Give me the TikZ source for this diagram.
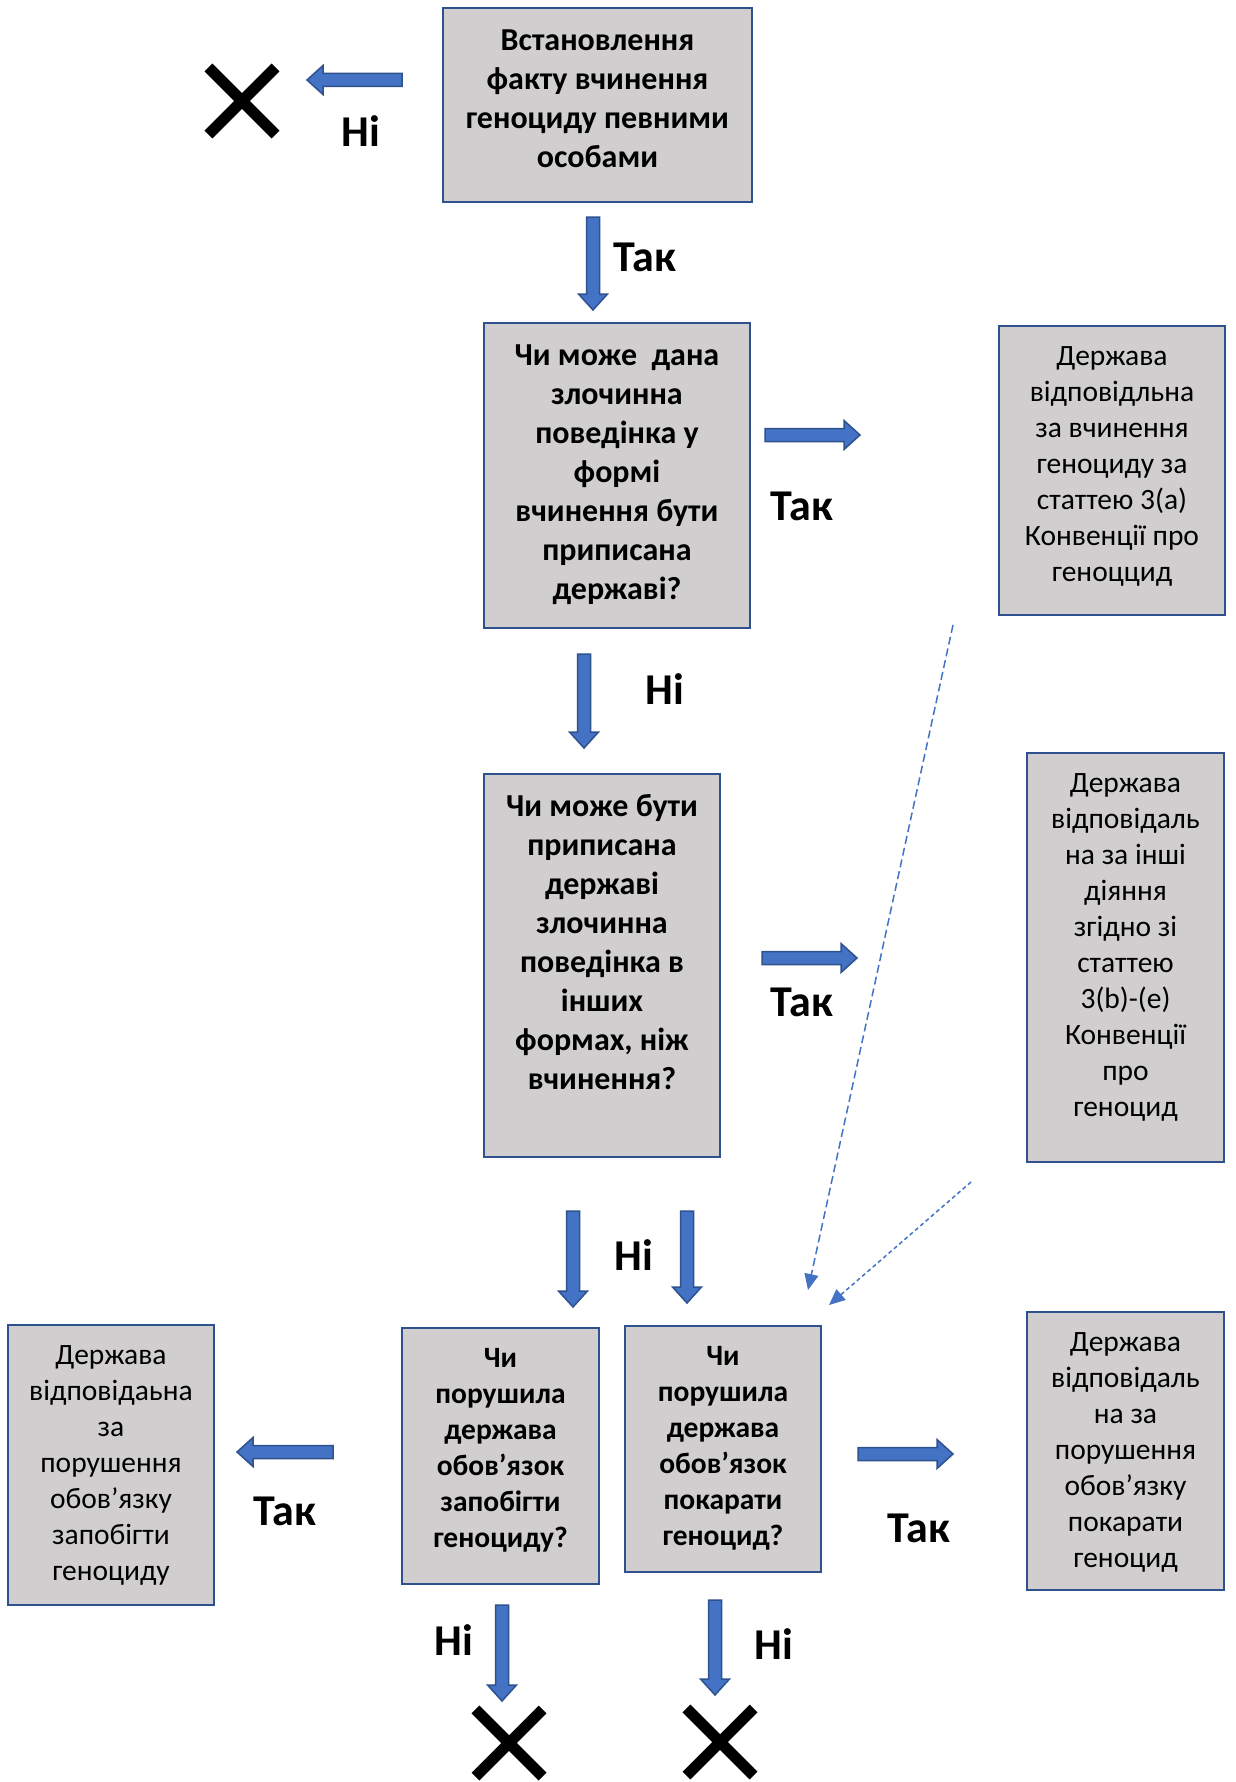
\documentclass[tikz,border=0pt]{standalone}
\usepackage{fontspec}
\setmainfont{Carlito}
\usetikzlibrary{arrows.meta}
\definecolor{boxfill}{HTML}{D0CECE}
\definecolor{boxline}{HTML}{2F528F}
\definecolor{arrfill}{HTML}{4472C4}
\definecolor{arrline}{HTML}{2F528F}
\newcommand{\bt}[5]{\parbox[c][#2pt][t]{#1pt}{\centering #4\vspace*{#3pt}\strut #5\par}}
\newcommand{\fq}{\fontsize{32}{39}\selectfont\bfseries}
\newcommand{\fs}{\fontsize{29.5}{36}\selectfont\bfseries}
\newcommand{\fr}{\fontsize{29.5}{36}\selectfont}
\newcommand{\barr}[3]{\draw[barrow, shift={(#1)}, rotate=#2] (0,-6.5) -- (#3-16,-6.5) -- (#3-16,-14.5) -- (#3,0) -- (#3-16,14.5) -- (#3-16,6.5) -- (0,6.5) -- cycle;}
\newcommand{\xm}[1]{\draw[xmark, shift={(#1)}] (-33.6,-33.6) -- (33.6,33.6) (-33.6,33.6) -- (33.6,-33.6);}
\tikzset{
  qbox/.style={draw=boxline, line width=2.5pt, fill=boxfill, inner sep=0pt},
  lbl/.style={font=\fontsize{44}{50}\selectfont\bfseries, inner sep=0pt},
  barrow/.style={fill=arrfill, draw=arrline, line width=1.5pt, line join=miter},
  dasharr/.style={draw=arrfill, line width=1.5pt, -{Triangle[length=16pt,width=14pt]}},
  xmark/.style={line width=11pt, black}
}
\begin{document}
\begin{tikzpicture}[x=1pt,y=-1pt]
\useasboundingbox[fill=white] (0,0) rectangle (1235,1782);
% boxes
\node[qbox] (b1) at (597.5,105) {\bt{309}{194}{15}{\fq}{Встановлення\\факту вчинення\\геноциду певними\\особами}};
\node[qbox] (b2) at (617,475.5) {\bt{266}{305}{15}{\fq}{Чи може~ дана\\злочинна\\поведінка у\\формі\\вчинення бути\\приписана\\державі?}};
\node[qbox] (r1) at (1112,470.5) {\bt{226}{289}{14}{\fr}{Держава\\відповідльна\\за вчинення\\геноциду за\\статтею 3(а)\\Конвенції про\\геноццид}};
\node[qbox] (b3) at (602,965.5) {\bt{236}{383}{15}{\fq}{Чи може бути\\приписана\\державі\\злочинна\\поведінка в\\інших\\формах, ніж\\вчинення?}};
\node[qbox] (r2) at (1125.5,957.5) {\bt{197}{409}{14}{\fr}{Держава\\відповідаль\\на за інші\\діяння\\згідно зі\\статтею\\3(b)-(e)\\Конвенції\\про\\геноцид}};
\node[qbox] (l1) at (111,1465) {\bt{206}{280}{14}{\fr}{Держава\\відповідаьна\\за\\порушення\\обов’язку\\запобігти\\геноциду}};
\node[qbox] (b4) at (500.5,1456) {\bt{197}{256}{14}{\fs}{Чи\\порушила\\держава\\обов’язок\\запобігти\\геноциду?}};
\node[qbox] (b5) at (723,1449) {\bt{196}{246}{14}{\fs}{Чи\\порушила\\держава\\обов’язок\\покарати\\геноцид?}};
\node[qbox] (r3) at (1125.5,1451) {\bt{197}{278}{14}{\fr}{Держава\\відповідаль\\на за\\порушення\\обов’язку\\покарати\\геноцид}};
% block arrows
\barr{402,80}{180}{95}
\barr{593,217}{-90}{93}
\barr{765,435}{0}{95}
\barr{584,654}{-90}{94}
\barr{762,958}{0}{95}
\barr{573,1211}{-90}{96}
\barr{687,1211}{-90}{92}
\barr{333,1452}{180}{96}
\barr{858,1454}{0}{95}
\barr{502,1605}{-90}{96}
\barr{715,1600}{-90}{95}
% labels
\node[lbl] (n1) at (361,131) {Ні};
\node[lbl] (y1) at (645,257) {Так};
\node[lbl] (y2) at (802,506) {Так};
\node[lbl] (n2) at (665,689) {Ні};
\node[lbl] (y3) at (802,1002) {Так};
\node[lbl] (n3) at (634,1255) {Ні};
\node[lbl] (y4) at (285,1511) {Так};
\node[lbl] (y5) at (919,1528) {Так};
\node[lbl] (n4) at (454,1640) {Ні};
\node[lbl] (n5) at (774,1644) {Ні};
% dashed arrows
\coordinate (d1s) at (953,625);
\coordinate (d1e) at (808,1290);
\coordinate (d2s) at (971,1182);
\coordinate (d2e) at (829,1305);
\draw[dasharr, dash pattern=on 8pt off 4pt] (d1s) -- (d1e);
\draw[dasharr, dash pattern=on 4pt off 3pt] (d2s) -- (d2e);
% crosses
\xm{242,101}
\xm{509,1743}
\xm{720,1742}
\end{tikzpicture}
\end{document}
